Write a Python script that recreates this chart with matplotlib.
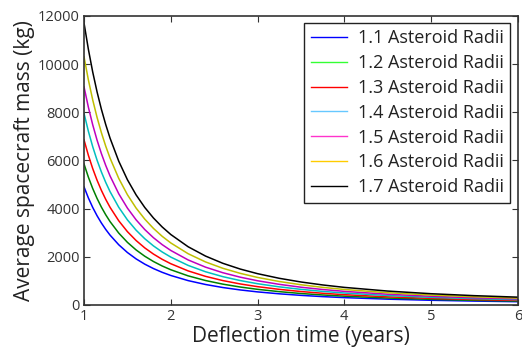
import matplotlib
matplotlib.use("Agg")
import matplotlib.pyplot as plt
from matplotlib.lines import Line2D

plt.rcParams['font.family'] = ['Open Sans', 'DejaVu Sans']

# deflection time (years)
years = [1, 1.05, 1.1, 1.15, 1.2, 1.25, 1.3, 1.4, 1.5, 1.6, 1.7, 1.8, 1.9, 2,
         2.2, 2.4, 2.6, 2.8, 3, 3.25, 3.5, 3.75, 4, 4.5, 5, 5.5, 6]

# average spacecraft mass (kg)
mass_11 = [4900, 4444, 4049, 3705, 3403, 3136, 2899, 2500, 2178, 1914, 1695, 1512, 1357, 1225,
           1012, 851, 725, 625, 544, 464, 400, 348, 306, 242, 196, 162, 136]
mass_12 = [5850, 5306, 4834, 4423, 4062, 3744, 3461, 2985, 2600, 2285, 2024, 1805, 1620, 1463,
           1209, 1016, 865, 746, 650, 554, 477, 416, 366, 289, 234, 194, 163]
mass_13 = [6850, 6213, 5661, 5179, 4757, 4384, 4053, 3495, 3044, 2676, 2370, 2114, 1897, 1713,
           1415, 1189, 1013, 874, 761, 649, 559, 487, 428, 338, 274, 227, 190]
mass_14 = [7950, 7211, 6570, 6011, 5521, 5088, 4704, 4056, 3533, 3105, 2751, 2453, 2202, 1988,
           1643, 1380, 1176, 1014, 883, 753, 649, 565, 497, 393, 318, 263, 221]
mass_15 = [9050, 8208, 7479, 6843, 6284, 5792, 5355, 4617, 4022, 3535, 3131, 2793, 2507, 2263,
           1870, 1571, 1339, 1155, 1006, 857, 738, 643, 566, 447, 362, 299, 252]
mass_16 = [10300, 9342, 8512, 7788, 7152, 6592, 6095, 5255, 4577, 4023, 3564, 3179, 2853, 2575,
           2128, 1788, 1523, 1314, 1144, 975, 840, 732, 644, 509, 412, 340, 286]
mass_17 = [11700, 10612, 9669, 8846, 8124, 7488, 6923, 5969, 5199, 4570, 4048, 3611, 3241, 2925,
           2417, 2031, 1730, 1492, 1300, 1108, 955, 832, 731, 578, 468, 387, 325]

labels = ['1.1 Asteroid Radii', '1.2 Asteroid Radii', '1.3 Asteroid Radii',
          '1.4 Asteroid Radii', '1.5 Asteroid Radii', '1.6 Asteroid Radii',
          '1.7 Asteroid Radii']
series = [mass_11, mass_12, mass_13, mass_14, mass_15, mass_16, mass_17]

# line colours in the plot and (slightly different) colours in the legend
line_colors = ['#0000ff', '#008000', '#ff0000', '#00bfbf', '#bf00bf', '#bfbf00', '#000000']
legend_colors = ['#0000ff', '#33ff33', '#ff0000', '#66c8ff', '#ff33cc', '#ffcc00', '#000000']

fig = plt.figure(figsize=(5.22, 3.53), dpi=100)
ax = fig.add_axes([0.161, 0.136, 0.831, 0.819])

for vals, c in zip(series, line_colors):
    ax.plot(years, vals, color=c, linewidth=1.1)

ax.set_xlim(1, 6)
ax.set_ylim(0, 12000)
ax.set_xticks([1, 2, 3, 4, 5, 6])
ax.set_yticks([0, 2000, 4000, 6000, 8000, 10000, 12000])
ax.tick_params(direction='in', top=True, right=True, labelsize=10.5,
               colors='#333333', length=4, pad=3)
for sp in ax.spines.values():
    sp.set_color('#333333')
    sp.set_linewidth(1.2)

ax.set_xlabel('Deflection time (years)', fontsize=15, color='#222222', labelpad=1)
ax.set_ylabel('Average spacecraft mass (kg)', fontsize=15, color='#222222', labelpad=2)

handles = [Line2D([0], [0], color=c, linewidth=1) for c in legend_colors]
leg = ax.legend(handles, labels, loc='upper right', bbox_to_anchor=(0.982, 0.976),
                borderaxespad=0, fontsize=13, fancybox=False, framealpha=1,
                edgecolor='#222222', handlelength=2.0, labelspacing=0.38,
                handletextpad=0.6, borderpad=0.35)
leg.get_frame().set_linewidth(1)
for t in leg.get_texts():
    t.set_color('#222222')

fig.savefig('out.png', dpi=100)
